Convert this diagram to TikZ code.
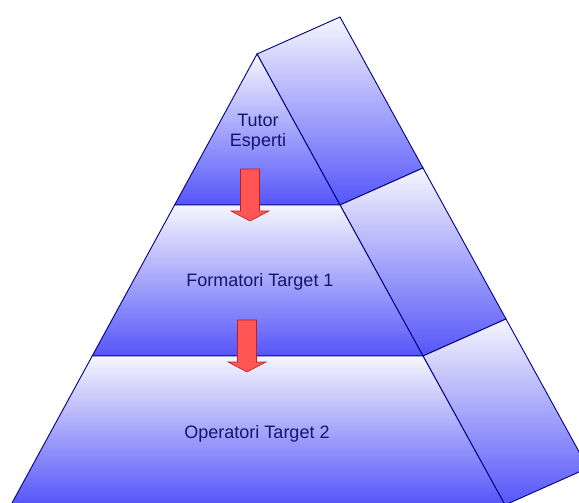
\documentclass[tikz,border=0pt]{standalone}
\usepackage{fontspec}
\setmainfont{Liberation Sans}
\usetikzlibrary{calc}

\definecolor{tierlight}{RGB}{246,246,253}
\definecolor{tierdark}{RGB}{85,85,250}
\definecolor{edgeblue}{RGB}{0,0,128}
\definecolor{arrowred}{RGB}{255,85,85}
\definecolor{arrowedge}{RGB}{190,30,30}
\definecolor{textnavy}{RGB}{20,20,110}

\begin{document}
\begin{tikzpicture}[x=1pt, y=-1pt,
    tier/.style={draw=edgeblue, line width=0.9pt, top color=tierlight, bottom color=tierdark},
    redarrow/.style={fill=arrowred, draw=arrowedge, line width=0.6pt},
    tiertext/.style={text=textnavy, font=\fontsize{18}{21}\selectfont, anchor=base, inner sep=0pt}]

        % page size; the pyramid runs off the right and bottom edges
        \useasboundingbox (0,0) rectangle (579,503);
        \clip (0,0) rectangle (579,503);

        % corners of the front face: apex and the cuts between the tiers
        \coordinate (apex) at (257,54);
        \coordinate (l1) at (174.6,205);  \coordinate (r1) at (340,205);
        \coordinate (l2) at (92.2,356);   \coordinate (r2) at (423,356);
        \coordinate (l3) at (10.9,505);   \coordinate (r3) at (505,505);
        % depth of the side faces
        \coordinate (depth) at (83,-37);

	% side faces
	\draw[tier] (apex) -- ($(apex)+(depth)$) -- ($(r1)+(depth)$) -- (r1) -- cycle;
	\draw[tier] (r1) -- ($(r1)+(depth)$) -- ($(r2)+(depth)$) -- (r2) -- cycle;
	\draw[tier] (r2) -- ($(r2)+(depth)$) -- ($(r3)+(depth)$) -- (r3) -- cycle;

	% front tiers
	\draw[tier] (apex) -- (r1) -- (l1) -- cycle;
	\draw[tier] (l1) -- (r1) -- (r2) -- (l2) -- cycle;
	\draw[tier] (l2) -- (r2) -- (r3) -- (l3) -- cycle;

	% red arrows from one tier down to the next
	\foreach \ax/\ay in {250/169, 247/320}
		\draw[redarrow] (\ax-9.5,\ay) -- (\ax+9.5,\ay) -- (\ax+9.5,\ay+42) -- (\ax+19,\ay+42)
			-- (\ax,\ay+52) -- (\ax-19,\ay+42) -- (\ax-9.5,\ay+42) -- cycle;

	\node[tiertext] (tutor) at (258,126) {Tutor};
	\node[tiertext] (esperti) at (258,146.8) {Esperti};
	\node[tiertext] (formatori) at (260,286.7) {Formatori Target 1};
	\node[tiertext] (operatori) at (257,438) {Operatori Target 2};

	\end{tikzpicture}
\end{document}
